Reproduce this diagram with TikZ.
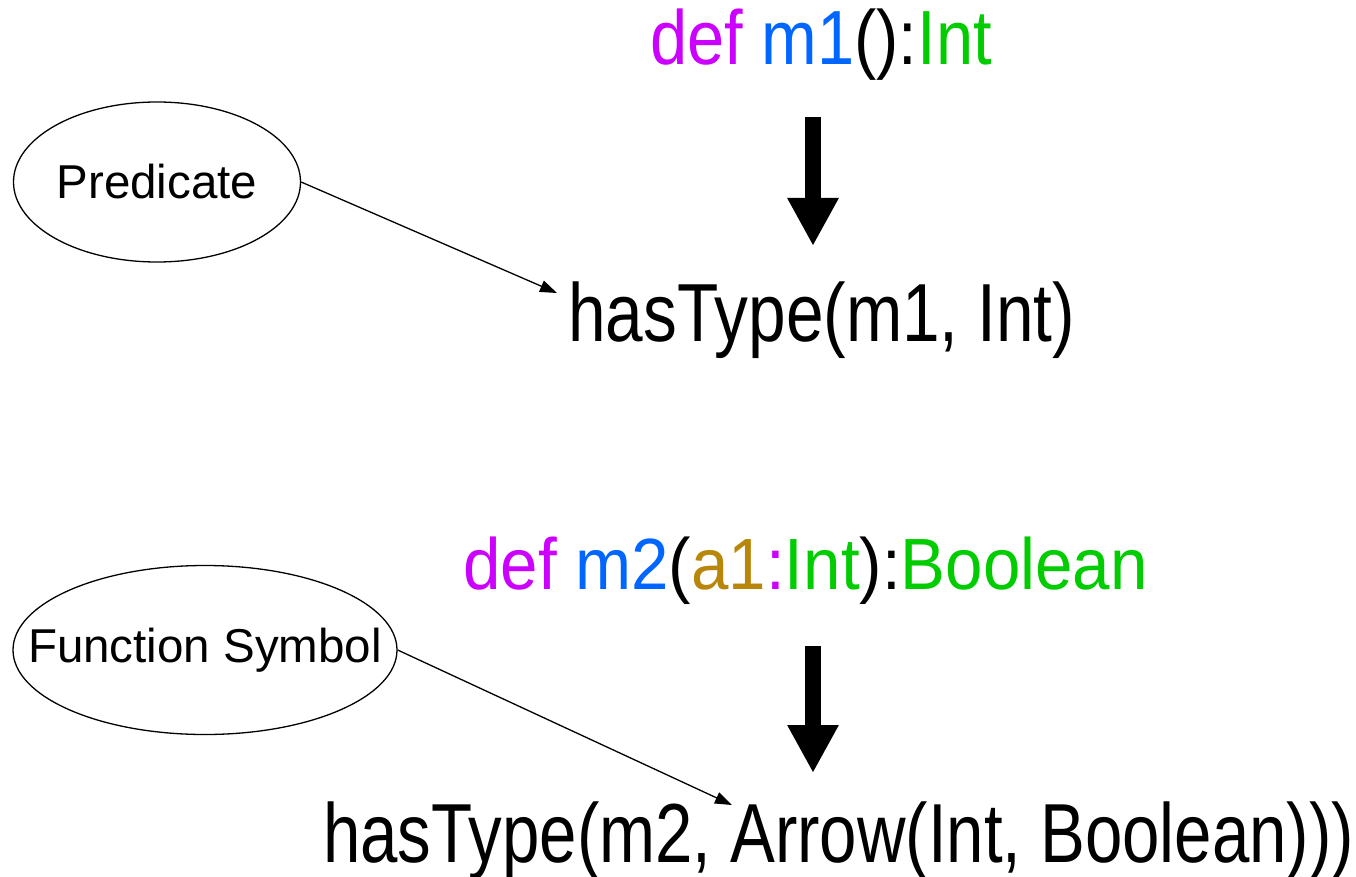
\documentclass[tikz,border=0pt]{standalone}
\usepackage{graphicx}
\usepackage{fontspec}
\setmainfont{Liberation Sans}
\usetikzlibrary{shapes.geometric,arrows.meta}
\definecolor{kw}{HTML}{CC00FF}
\definecolor{nm}{HTML}{0066FF}
\definecolor{ty}{HTML}{00CC00}
\definecolor{ar}{HTML}{B8860B}
\begin{document}
\begin{tikzpicture}[x=1pt,y=-1pt,
  bubble/.style={draw, ellipse, line width=1.3pt, inner sep=0pt},
  bubbletext/.style={font=\fontsize{47.5}{57}\selectfont, inner sep=0pt},
  code/.style={anchor=base west, inner sep=0pt},
  blockarrow/.style={line width=16pt, -{Triangle[length=48pt,width=48pt]}},
  pointer/.style={line width=1.3pt, -{Triangle[length=17pt,width=12pt]}}]
\useasboundingbox (0,0) rectangle (1356,877);

\node[bubble, minimum width=287pt, minimum height=160pt,
      label={[bubbletext]center:Predicate}] (pred) at (157,182) {};
\node[bubble, minimum width=384pt, minimum height=169pt,
      label={[bubbletext]center:Function Symbol}] (fs) at (205,650) {};

\node[code] (d1) at (650,65) {\scalebox{0.87}[1]{\fontsize{76.8}{90}\selectfont\color{kw}def \color{nm}m1\color{black}():\color{ty}Int}};
\node[code] (h1) at (568,341) {\scalebox{0.82}[1]{\fontsize{82.4}{96}\selectfont hasType(m1, Int)}};
\node[code] (d2) at (463,589) {\scalebox{0.927}[1]{\fontsize{72.6}{86}\selectfont\color{kw}def \color{nm}m2\color{black}(\color{ar}a1\color{kw}:\color{ty}Int\color{black}):\color{ty}Boolean}};
\node[code] (h2) at (323,862) {\scalebox{0.802}[1]{\fontsize{83.8}{98}\selectfont hasType(m2, Arrow(Int, Boolean)))}};

\coordinate (a1s) at (813,117);
\coordinate (a1e) at (813,246);
\coordinate (a2s) at (813,646);
\coordinate (a2e) at (813,773);
\draw[blockarrow] (a1s) -- (a1e);
\draw[blockarrow] (a2s) -- (a2e);

\coordinate (p1) at (557,293);
\coordinate (p2) at (732,805);
\draw[pointer] (pred.east) -- (p1);
\draw[pointer] (fs.east) -- (p2);
\end{tikzpicture}
\end{document}
